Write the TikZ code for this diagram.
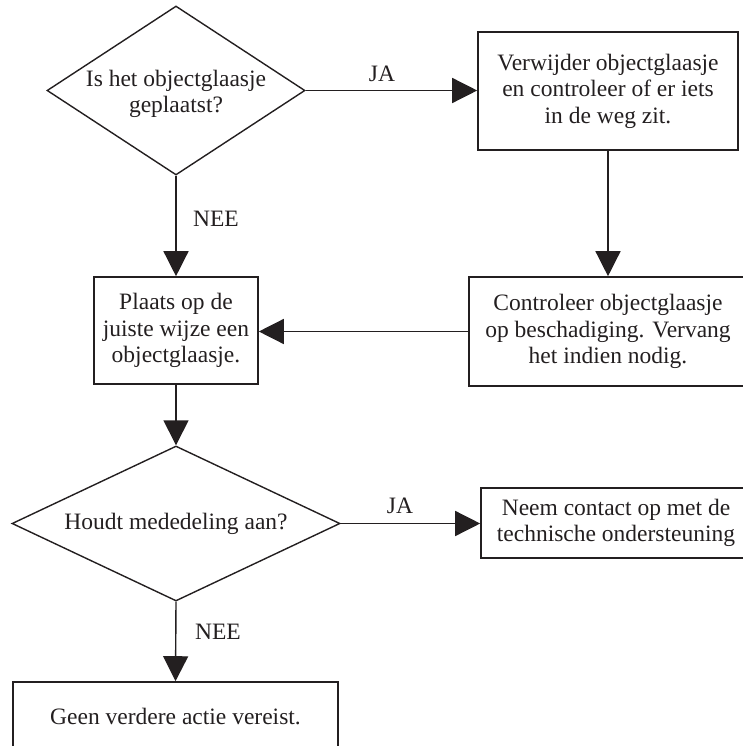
\documentclass[tikz,border=0pt]{standalone}
\usepackage{fontspec}
\setmainfont{Liberation Serif}
\usetikzlibrary{shapes.geometric,arrows.meta}
\definecolor{ink}{HTML}{231F20}

\begin{document}
\begin{tikzpicture}[x=1pt, y=-1pt,
  every node/.style={font=\fontsize{23.5}{26.5}\selectfont, text=ink},
  box/.style={draw=ink, line width=1.6pt, align=center, inner sep=0pt},
  decision/.style={diamond, draw=ink, line width=1.4pt, inner sep=0pt},
  arr/.style={draw=ink, line width=1.4pt, -{Triangle[length=25pt,width=25pt]}}]
\useasboundingbox (0,0) rectangle (743,746);
\clip (0,0) rectangle (743,746);
% decisions
\node[decision, minimum width=258pt, minimum height=169pt] (d1) at (176,90.5) {};
\node[align=center] (d1txt) at (176,94) {Is het objectglaasje\\geplaatst?};
\node[decision, minimum width=328pt, minimum height=155pt] (d2) at (176,523.5) {};
\node (d2txt) at (176,524) {Houdt mededeling aan?};
% boxes
\node[box, minimum width=260pt, minimum height=118pt] (verwijder) at (608,91) {Verwijder objectglaasje\\en controleer of er iets\\in de weg zit.};
\node[box, minimum width=278pt, minimum height=109pt] (controleer) at (608,331.5) {Controleer objectglaasje\\op beschadiging. Vervang\\het indien nodig.};
\node[box, minimum width=164pt, minimum height=107pt] (plaats) at (176,330.5) {Plaats op de\\juiste wijze een\\objectglaasje.};
\node[box, minimum width=270pt, minimum height=70pt] (contact) at (616,523) {Neem contact op met de\\technische ondersteuning};
\node[box, minimum width=325pt, minimum height=70pt] (geen) at (175.5,717) {Geen verdere actie vereist.};
% connectors
\draw[arr] (d1.east) -- (verwijder.west |- d1.east);
\draw[arr] (verwijder.south) -- (verwijder.south |- controleer.north);
\draw[arr] (controleer.west) -- (plaats.east |- controleer.west);
\draw[arr] (d1.south) -- (plaats.north);
\draw[arr] (plaats.south) -- (d2.north);
\draw[arr] (d2.east) -- (contact.west |- d2.east);
\draw[arr] (d2.south) -- (geen.north);
% labels
\node (ja1) at (382,74) {JA};
\node (nee1) at (216,219) {NEE};
\node (ja2) at (400,506) {JA};
\node (nee2) at (218,632) {NEE};
\end{tikzpicture}
\end{document}
